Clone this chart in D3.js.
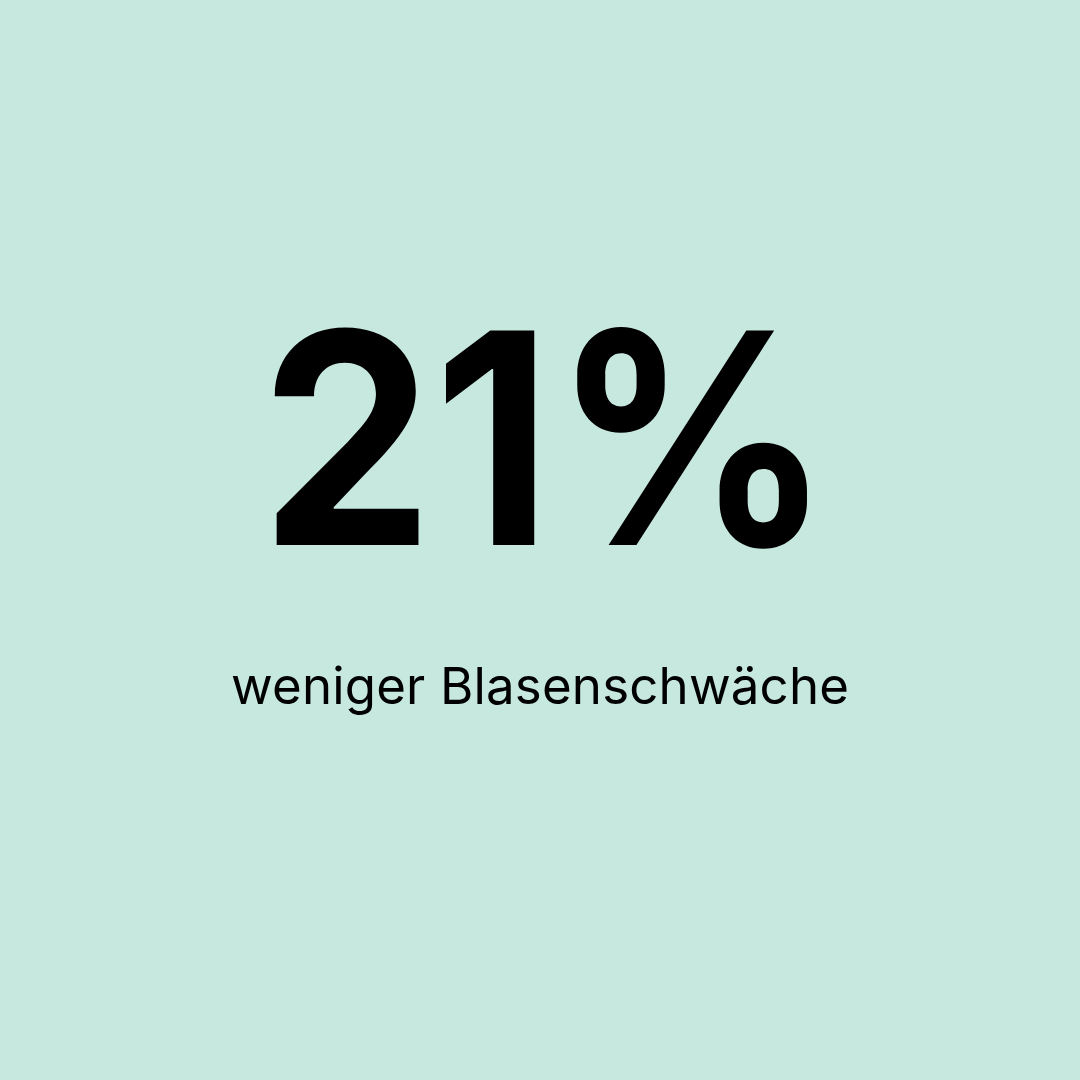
<!DOCTYPE html>
<html>
<head>
<meta charset="utf-8">
<script src="https://cdn.jsdelivr.net/npm/d3@7"></script>
<style>
  html, body { margin: 0; padding: 0; background: #c6e8df; }
  svg { display: block; }
</style>
</head>
<body>
<svg id="canvas"></svg>
<script>
var values = [21];
var units = ["%"];
var labels = ["weniger Blasenschwäche"];

var width = 1080;
var height = 1080;

var canvas = d3.select("#canvas")
  .attr("width", width)
  .attr("height", height);

canvas.append("rect")
  .attr("width", width)
  .attr("height", height)
  .attr("fill", "#c6e8df");

// big figure
canvas.selectAll("text.figure")
  .data(values)
  .enter()
  .append("text")
  .attr("class", "figure")
  .attr("x", 260)
  .attr("y", 545)
  .attr("font-family", "Inter, Lato, sans-serif")
  .attr("font-weight", 700)
  .attr("font-size", 295)
  .attr("textLength", 572)
  .attr("lengthAdjust", "spacingAndGlyphs")
  .attr("fill", "#000")
  .text(function(d, i) { return d + units[i]; });

// caption
canvas.selectAll("text.caption")
  .data(labels)
  .enter()
  .append("text")
  .attr("class", "caption")
  .attr("x", 231)
  .attr("y", 704)
  .attr("font-family", "Inter, Lato, sans-serif")
  .attr("font-weight", 400)
  .attr("font-size", 51)
  .attr("textLength", 618)
  .attr("lengthAdjust", "spacing")
  .attr("fill", "#000")
  .text(function(d) { return d; });
</script>
</body>
</html>
